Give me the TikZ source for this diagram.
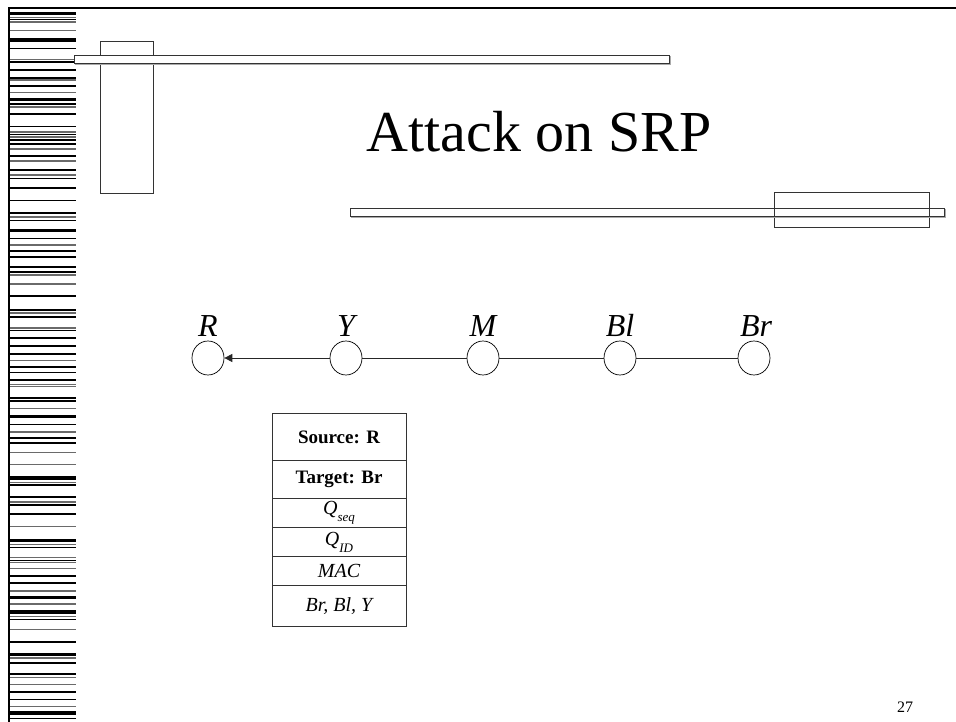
\documentclass[tikz,border=0pt]{standalone}
\usepackage{fontspec}
\setmainfont{Liberation Serif}
\usetikzlibrary{arrows.meta,shapes.geometric}
\definecolor{stripek}{HTML}{000000}
\definecolor{stripeg}{HTML}{6A6A6A}
\definecolor{edgec}{HTML}{333333}
\definecolor{shadowc}{HTML}{AAAAAA}
\tikzset{
  deco/.style={draw=edgec, line width=0.9pt},
  decoshadow/.style={draw=shadowc, line width=0.9pt},
  vertex/.style={ellipse, draw=black, line width=0.7pt, minimum width=32pt, minimum height=34pt, inner sep=0pt},
  vlabel/.style={anchor=base, inner sep=0pt, font=\fontsize{32}{32}\selectfont\itshape},
  link/.style={draw=black!85, line width=0.8pt},
  cell/.style={draw=black!80, line width=0.8pt, minimum width=134pt, inner sep=0pt, anchor=north, font=\fontsize{20}{20}\selectfont},
}
\begin{document}
\begin{tikzpicture}[x=1pt,y=-1pt]
\useasboundingbox (0,0) rectangle (956,722);
% frame lines
\draw[black, line width=1.6pt] (8,8) -- (956,8);
\draw[black, line width=2.8pt] (9,8) -- (9,722);
% barcode stripes
\foreach \yy/\ww/\cc in {
13.5/2.5/stripek, 17.5/1/stripeg, 19.5/1/stripek, 22/1/stripeg, 30.5/1/stripeg, 40/2.5/stripek, 48.5/1/stripek, 59.5/1/stripeg, 62/1/stripek, 70/1/stripek, 78/2/stripek, 80/1/stripeg, 86/1/stripek, 92.5/1/stripeg, 99.5/2.5/stripek, 104/1/stripek, 107/1/stripeg, 114/1/stripek, 126.5/1/stripek, 132/1/stripeg, 134.5/1/stripek, 137/1/stripeg, 140/1/stripek, 144/1/stripek,
149/1/stripeg, 156/2/stripek, 161/1/stripeg, 170/2/stripek, 175/1/stripeg, 178.5/1/stripek, 188/1/stripek, 200.5/1/stripek, 213/1.5/stripek, 217/1/stripeg, 220.5/1/stripek, 230.5/2/stripek, 238.5/1/stripek, 245/1/stripeg, 251/2/stripek, 257/1/stripek, 267/2/stripek, 272/1/stripek, 275/1/stripeg, 284/1/stripeg,
296/1/stripek, 310/2/stripek, 313/1/stripeg, 317/1/stripek, 328/1/stripeg, 330.5/1/stripek, 338/1/stripek, 346/2/stripek, 354/1/stripek, 360.5/1/stripeg, 367/2/stripek, 372.5/1/stripek, 380/1/stripek, 384.5/1/stripeg, 386.5/1/stripeg, 398/1/stripek, 401/1/stripek, 408.5/1/stripeg, 416.5/2/stripek, 424.5/1/stripek, 432/1/stripeg,
438/2/stripek, 443/1/stripek, 452.5/1/stripeg, 464.5/1/stripeg, 478/2.5/stripek, 482.5/1/stripeg, 485/1/stripek, 497/2/stripek, 502/1/stripeg, 505/1/stripek, 514/1/stripek, 526.5/1/stripeg, 540.5/2/stripek, 544.5/1/stripeg, 547.5/1/stripek, 557.5/1/stripeg, 560.5/1/stripek, 562.5/1/stripeg, 568.5/1/stripeg, 576/1/stripek,
583/1/stripek, 591/1/stripeg, 597.5/2.5/stripek, 604/1/stripeg, 612/2.5/stripek, 616.5/1/stripeg, 619.5/1/stripek, 629.5/1/stripeg, 642/1/stripek, 654.5/2/stripek, 658/1/stripeg, 663/1/stripek, 674/1/stripek, 677.5/1/stripeg, 684.5/1/stripeg, 692/1/stripek, 699.5/1/stripek, 706.5/1/stripeg, 713/2.5/stripek, 718.5/1/stripek}
  \draw[\cc, line width=1.35*\ww pt] (10,\yy) -- (76,\yy);
% decorative rectangles top-left
\draw[deco] (100,41) rectangle (153,193);
\draw[decoshadow] (75,64) -- (670,64) -- (670,56);
\draw[deco, fill=white] (74,55) rectangle (669,63);
% decorative rectangles right
\draw[deco] (774,192) rectangle (929,227);
\draw[decoshadow] (351,217) -- (945,217) -- (945,209);
\draw[deco] (350,208) rectangle (944,216);
% title
\node[anchor=base, inner sep=0pt, font=\fontsize{58}{58}\selectfont] (title) at (539,152) {Attack on SRP};
% nodes
\node[vertex] (R) at (208,358) {};
\node[vertex] (Y) at (346,358) {};
\node[vertex] (M) at (483,358) {};
\node[vertex] (Bl) at (620,358) {};
\node[vertex] (Br) at (754,358) {};
\node[vlabel] (lR) at (208,336) {R};
\node[vlabel] (lY) at (346,336) {Y};
\node[vlabel] (lM) at (483,336) {M};
\node[vlabel] (lBl) at (620,336) {Bl};
\node[vlabel] (lBr) at (756,336) {Br};
\draw[link, -{Triangle[length=8pt,width=8pt]}] (Y) -- (R);
\draw[link] (Y) -- (M);
\draw[link] (M) -- (Bl);
\draw[link] (Bl) -- (Br);
% table
\node[cell, minimum height=47pt, font=\fontsize{19}{19}\selectfont\bfseries] (c1) at (339,413) {Source: R};
\node[cell, minimum height=38pt, font=\fontsize{19}{19}\selectfont\bfseries] (c2) at (339,460) {Target: Br};
\node[cell, minimum height=29pt] (c3) at (339,498) {\itshape Q\raisebox{-0.35em}{\fontsize{13}{13}\selectfont seq}};
\node[cell, minimum height=29pt] (c4) at (339,527) {\itshape Q\raisebox{-0.35em}{\fontsize{13}{13}\selectfont ID}};
\node[cell, minimum height=29pt] (c5) at (339,556) {\itshape MAC};
\node[cell, minimum height=41pt] (c6) at (339,585) {\itshape Br, Bl, Y};
% page number
\node[anchor=base, inner sep=0pt, font=\fontsize{16}{16}\selectfont] (pg) at (905,712) {27};
\end{tikzpicture}
\end{document}
